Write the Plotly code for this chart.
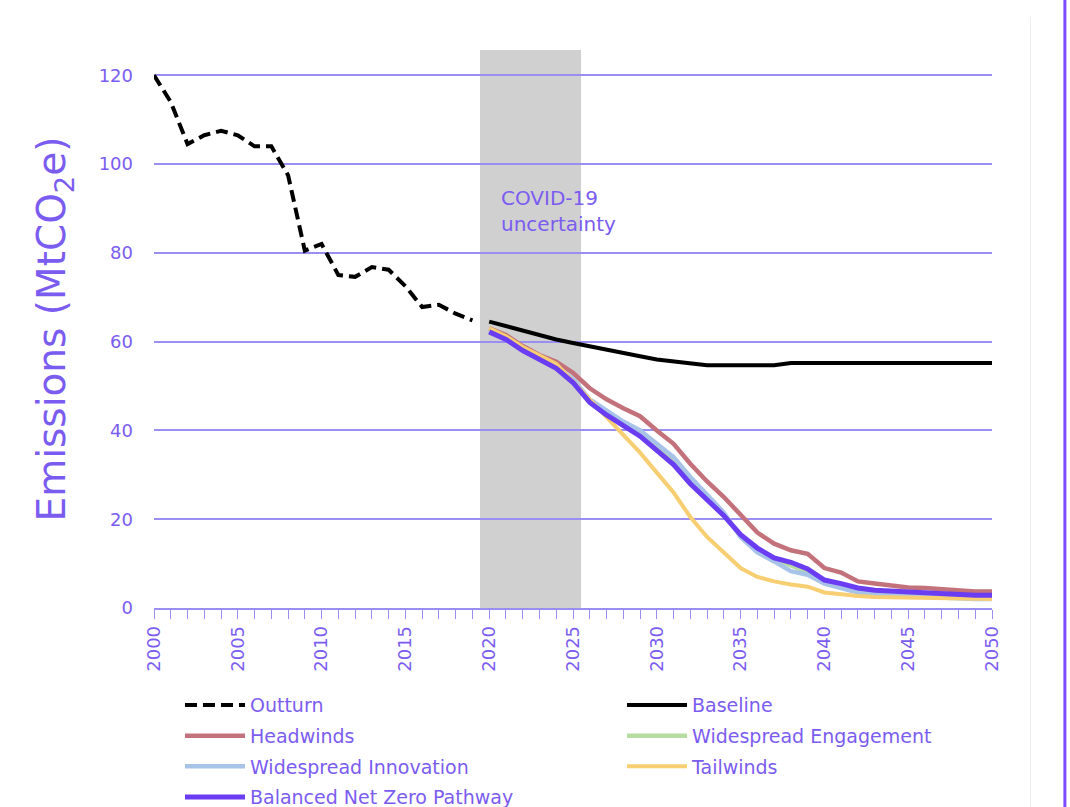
import plotly.graph_objects as go

years_out = list(range(2000, 2020))
outturn = [120, 114, 104.5, 106.5, 107.5, 106.5, 104, 104, 97.5, 80.5, 82, 75, 74.6, 76.8, 76.2, 72.5, 67.8, 68.3, 66.3, 64.8]

years_proj = list(range(2020, 2051))
baseline = [64.5, 63.5, 62.3, 61.4, 60.5, 59.7, 58.9, 58.1, 57.3, 56.7, 56.0, 55.5, 55.1, 54.7, 54.7, 54.7, 54.7, 54.7,
            55.2, 55.2, 55.2, 55.2, 55.2, 55.2, 55.2, 55.2, 55.2, 55.2, 55.2, 55.2, 55.2]
headwinds = [63, 61.5, 59, 57, 55.5, 53, 49.5, 47, 45, 43.2, 40, 37, 32.5, 28.5, 25, 21, 17, 14.5, 13, 12.2,
             9, 8, 6, 5.5, 5, 4.6, 4.5, 4.2, 3.8, 3.7, 3.7]
engagement = [62.5, 60.8, 58.3, 56.2, 54.2, 51, 46.7, 44, 41.5, 39.3, 36.3, 33, 28.8, 25, 21, 16.3, 13, 11, 9.5, 8.2,
              6, 5, 4, 3.4, 3.2, 3, 2.9, 2.7, 2.5, 2.4, 2.4]
innovation = [62.5, 61, 58.5, 56.3, 54.5, 51.5, 47, 44.5, 42, 40, 37, 34, 29.5, 25.5, 21.5, 16, 12.5, 10.5, 8.3, 7.5,
              5.5, 4.5, 3.5, 3, 2.8, 2.6, 2.5, 2.3, 2.1, 2, 2]
tailwinds = [63, 61.2, 58.8, 56.8, 55, 51, 47, 43, 39, 35, 30.5, 26, 20.5, 16, 12.5, 9, 7, 6, 5.3, 4.8,
             3.5, 3, 2.7, 2.5, 2.4, 2.3, 2.2, 2.1, 2, 2, 2]
balanced = [62.2, 60.5, 58, 56, 54, 50.8, 46.3, 43.5, 41, 38.7, 35.5, 32.3, 28, 24.3, 20.8, 16.5, 13.5, 11.3, 10.3, 8.8,
            6.3, 5.5, 4.5, 4, 3.8, 3.8, 3.6, 3.3, 3, 2.9, 2.9]

covid_start, covid_end = 2019.45, 2025.48

PURPLE_TXT = "#7b5cf0"
GRID = "#9a8ef2"
FONT = "DejaVu Sans"

series = [
    ("Outturn", years_out, outturn, dict(color="black", width=4, dash="12px,6px"), "legend"),
    ("Baseline", years_proj, baseline, dict(color="black", width=4), "legend2"),
    ("Headwinds", years_proj, headwinds, dict(color="#c3727c", width=4.5), "legend"),
    ("Widespread Engagement", years_proj, engagement, dict(color="#b6dca2", width=4.5), "legend2"),
    ("Widespread Innovation", years_proj, innovation, dict(color="#a8c3e8", width=4.5), "legend"),
    ("Tailwinds", years_proj, tailwinds, dict(color="#f7cf72", width=4), "legend2"),
    ("Balanced Net Zero Pathway", years_proj, balanced, dict(color="#6a3df3", width=5), "legend"),
]

fig = go.Figure()
for name, xs, ys, line, leg in series:
    fig.add_trace(go.Scatter(x=xs, y=ys, name=name, mode="lines", line=line,
                             legend=leg, legendgroup=name))

fig.add_shape(type="rect", xref="x", yref="paper", x0=covid_start, x1=covid_end, y0=0, y1=1,
              fillcolor="#d0d0d0", line=dict(width=0), layer="below")
fig.add_annotation(x=2020.6, y=89.5, xref="x", yref="y", text="COVID-19<br>uncertainty",
                   showarrow=False, xanchor="left", align="left",
                   font=dict(family=FONT, size=20, color=PURPLE_TXT))

# right-side page decoration
fig.add_shape(type="line", xref="paper", yref="paper", x0=1.087, x1=1.087, y0=-0.5, y1=1.2,
              line=dict(color="#7b4dff", width=3))
fig.add_shape(type="line", xref="paper", yref="paper", x0=1.046, x1=1.046, y0=-0.5, y1=1.06,
              line=dict(color="#eeeeee", width=1))

legend_common = dict(orientation="v", yanchor="top", xanchor="left", itemwidth=60,
                     font=dict(family=FONT, size=19, color=PURPLE_TXT),
                     tracegroupgap=3, bgcolor="rgba(0,0,0,0)", traceorder="grouped")

fig.update_layout(
    width=1070, height=807,
    margin=dict(l=154, r=78, t=50, b=199, autoexpand=False),
    paper_bgcolor="white", plot_bgcolor="white",
    font=dict(family=FONT, color=PURPLE_TXT),
    showlegend=True,
    legend=dict(x=0.031, y=-0.14, **legend_common),
    legend2=dict(x=0.5585, y=-0.14, **legend_common),
)
fig.update_xaxes(range=[2000, 2050], tickmode="linear", tick0=2000, dtick=5, tickangle=-90,
                 showgrid=False, showline=True, linecolor=GRID, linewidth=1.5,
                 ticks="outside", ticklen=9, tickcolor=GRID, tickwidth=1.2,
                 minor=dict(dtick=1, ticks="outside", ticklen=9, tickcolor=GRID, tickwidth=1.2, showgrid=False),
                 tickfont=dict(family=FONT, size=18, color=PURPLE_TXT), zeroline=False)
fig.update_yaxes(range=[0, 125.7], tickvals=[0, 20, 40, 60, 80, 100, 120],
                 showgrid=True, gridcolor=GRID, gridwidth=1.5, zeroline=False,
                 showline=False, ticks="", ticklabelstandoff=20,
                 tickfont=dict(family=FONT, size=18, color=PURPLE_TXT),
                 title=dict(text="Emissions (MtCO<sub>2</sub>e)", standoff=20,
                            font=dict(family=FONT, size=39, color="#7b5cf0")))

fig.write_html("out.html", config={"displayModeBar": False},
               post_script="document.body.style.margin='0';document.body.style.overflow='hidden';")
